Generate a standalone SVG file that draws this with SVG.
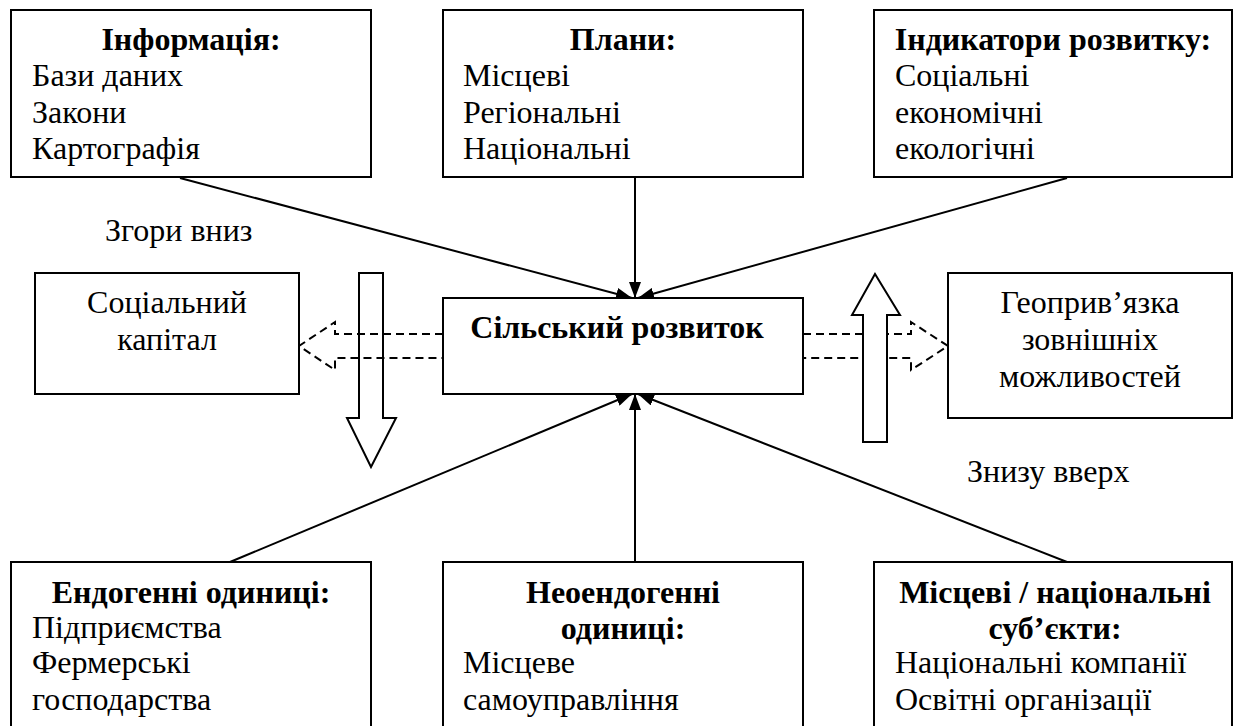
<svg xmlns="http://www.w3.org/2000/svg" width="1234" height="726" viewBox="0 0 1234 726">
<defs>
<style>
.box{fill:#fff;stroke:#000;stroke-width:2}
.b{font-weight:bold}
.c{text-anchor:middle}
.ln{stroke:#000;stroke-width:2;fill:none}
.dash{stroke:#000;stroke-width:2;fill:none;stroke-dasharray:8 5}
.blk{stroke:#000;stroke-width:2}
</style>
<marker id="ah" viewBox="0 0 16 12" refX="16" refY="6" markerWidth="16" markerHeight="12" markerUnits="userSpaceOnUse" orient="auto">
<path d="M0,0 L16,6 L0,12 Z" fill="#000"/>
</marker>
</defs>
<rect width="1234" height="726" fill="#fff"/>

<g id="connectors">
<line class="ln" x1="180" y1="178" x2="632" y2="298" marker-end="url(#ah)"/>
<line class="ln" x1="635" y1="178" x2="635" y2="298" marker-end="url(#ah)"/>
<line class="ln" x1="1067" y1="178" x2="638" y2="298" marker-end="url(#ah)"/>
<line class="ln" x1="230" y1="562" x2="632" y2="394" marker-end="url(#ah)"/>
<line class="ln" x1="635" y1="562" x2="635" y2="394" marker-end="url(#ah)"/>
<line class="ln" x1="1067" y1="562" x2="638" y2="394" marker-end="url(#ah)"/>
<polyline class="dash" points="443,334 335,334 335,322 299,346 335,370 335,358 443,358"/>
<polyline class="dash" points="803,334 911,334 911,322 948,346 911,370 911,358 803,358"/>
<polygon class="blk" fill="none" points="359,273 383,273 383,418 396,418 371,467 347,418 359,418"/>
<polygon class="blk" fill="#fff" points="863,442 887,442 887,315 900,315 875,274 852,315 863,315"/>
</g>

<g font-family="'Liberation Serif', 'Times New Roman', serif" font-size="32" fill="#000">
<g id="n-info">
<rect class="box" x="11" y="10" width="360" height="167"/>
<text class="b c" x="191" y="50">Інформація:</text>
<text x="32" y="86">Бази даних</text>
<text x="32" y="123">Закони</text>
<text x="32" y="159">Картографія</text>
</g>

<g id="n-plans">
<rect class="box" x="443" y="10" width="360" height="167"/>
<text class="b c" x="623" y="50">Плани:</text>
<text x="463" y="86">Місцеві</text>
<text x="463" y="123">Регіональні</text>
<text x="463" y="159">Національні</text>
</g>

<g id="n-indicators">
<rect class="box" x="874" y="10" width="358" height="167"/>
<text class="b c" x="1053" y="50">Індикатори розвитку:</text>
<text x="895" y="86">Соціальні</text>
<text x="895" y="123">економічні</text>
<text x="895" y="159">екологічні</text>
</g>

<g id="n-social">
<rect class="box" x="35" y="273" width="264" height="121"/>
<text class="c" x="167" y="313">Соціальний</text>
<text class="c" x="167" y="350">капітал</text>
</g>

<g id="n-center">
<rect class="box" x="443" y="298" width="360" height="96"/>
<text class="b c" x="617" y="338">Сільський розвиток</text>
</g>

<g id="n-geo">
<rect class="box" x="948" y="273" width="284" height="145"/>
<text class="c" x="1090" y="313">Геоприв’язка</text>
<text class="c" x="1090" y="350">зовнішніх</text>
<text class="c" x="1090" y="387">можливостей</text>
</g>

<g id="labels">
<text x="105" y="241">Згори вниз</text>
<text x="967" y="482">Знизу вверх</text>
</g>

<g id="n-endo">
<rect class="box" x="11" y="562" width="360" height="180"/>
<text class="b c" x="191" y="603">Ендогенні одиниці:</text>
<text x="32" y="638">Підприємства</text>
<text x="32" y="673">Фермерські</text>
<text x="32" y="710">господарства</text>
</g>

<g id="n-neo">
<rect class="box" x="443" y="562" width="360" height="180"/>
<text class="b c" x="623" y="603">Неоендогенні</text>
<text class="b c" x="623" y="639">одиниці:</text>
<text x="463" y="673">Місцеве</text>
<text x="463" y="710">самоуправління</text>
</g>

<g id="n-actors">
<rect class="box" x="874" y="562" width="358" height="180"/>
<text class="b c" x="1055" y="603">Місцеві / національні</text>
<text class="b c" x="1055" y="639">суб’єкти:</text>
<text x="895" y="673">Національні компанії</text>
<text x="895" y="710">Освітні організації</text>
</g>
</g>
</svg>
